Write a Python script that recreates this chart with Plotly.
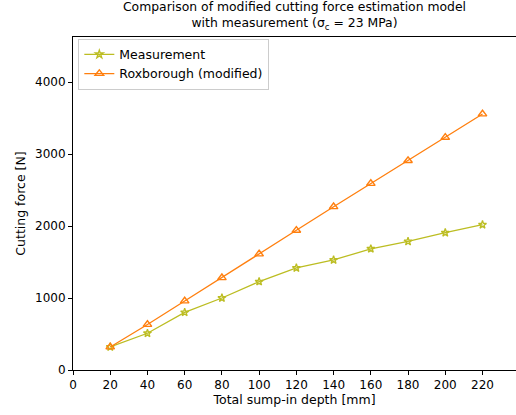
import plotly.graph_objects as go

depth = [20, 40, 60, 80, 100, 120, 140, 160, 180, 200, 220]
measurement = [320, 510, 800, 1000, 1227, 1417, 1528, 1683, 1785, 1907, 2018]
roxborough = [320, 632, 958, 1282, 1611, 1940, 2268, 2590, 2908, 3230, 3556]

fig = go.Figure()
fig.add_trace(go.Scatter(
    x=depth, y=measurement, mode="lines+markers", name="Measurement",
    line=dict(color="#bcbd22", width=1.3),
    marker=dict(symbol="star-open", size=6, color="#bcbd22", line=dict(width=1.3)),
))
fig.add_trace(go.Scatter(
    x=depth, y=roxborough, mode="lines+markers", name="Roxborough (modified)",
    line=dict(color="#ff7f0e", width=1.3),
    marker=dict(symbol="triangle-up-open", size=7.5, color="#ff7f0e", line=dict(width=1.4)),
))

axis_common = dict(
    showgrid=False, zeroline=False, showline=True, linecolor="black", linewidth=1,
    mirror=True, ticks="outside", ticklen=4, tickcolor="black", automargin=False,
    tickfont=dict(family="DejaVu Sans", size=12, color="black"),
)

fig.update_layout(
    width=516, height=415,
    margin=dict(l=73, r=0, t=37, b=45),
    paper_bgcolor="white", plot_bgcolor="white",
    font=dict(family="DejaVu Sans", size=12, color="black"),
    title=dict(
        text="Comparison of modified cutting force estimation model<br>with measurement (σ<sub>c</sub> = 23 MPa)",
        x=0.5, xanchor="center", xref="paper", y=0.973, yanchor="middle", yref="container",
        font=dict(family="DejaVu Sans", size=12.4, color="black"),
    ),
    xaxis=dict(range=[0, 238], tickvals=[0, 20, 40, 60, 80, 100, 120, 140, 160, 180, 200, 220],
               title=dict(text="Total sump-in depth [mm]", standoff=3,
                          font=dict(family="DejaVu Sans", size=12.5, color="black")),
               **axis_common),
    yaxis=dict(range=[0, 4625], tickvals=[0, 1000, 2000, 3000, 4000],
               title=dict(text="Cutting force [N]", standoff=6,
                          font=dict(family="DejaVu Sans", size=12.5, color="black")),
               **axis_common),
    legend=dict(x=0.012, y=0.995, xanchor="left", yanchor="top",
                bgcolor="white", bordercolor="#cccccc", borderwidth=1,
                font=dict(family="DejaVu Sans", size=12.5, color="black"),
                tracegroupgap=0),
    showlegend=True,
)

fig.write_html("out.html", config={"displayModeBar": False},
               post_script="document.body.style.margin='0';")
